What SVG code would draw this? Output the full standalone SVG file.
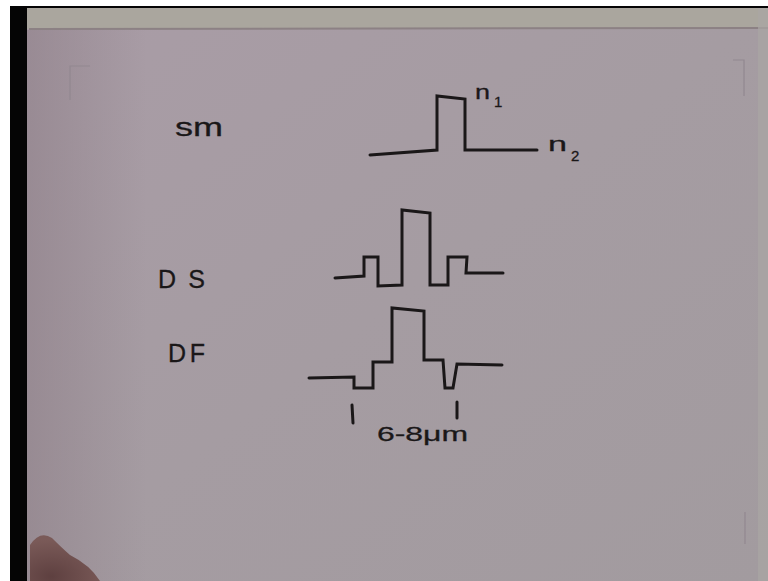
<svg xmlns="http://www.w3.org/2000/svg" width="768" height="581" viewBox="0 0 768 581">
<defs>
<linearGradient id="paper" x1="0" y1="0" x2="1" y2="1">
<stop offset="0" stop-color="#a99ca6"/>
<stop offset="0.5" stop-color="#a59ca2"/>
<stop offset="1" stop-color="#a29b9f"/>
</linearGradient>
<linearGradient id="shade" x1="0" y1="0" x2="1" y2="0">
<stop offset="0" stop-color="#8e7f88" stop-opacity="0.6"/>
<stop offset="1" stop-color="#8e7f88" stop-opacity="0"/>
</linearGradient>
<radialGradient id="hand" cx="0.3" cy="0.9" r="0.8">
<stop offset="0" stop-color="#5e4040"/>
<stop offset="1" stop-color="#7a5a58"/>
</radialGradient>
</defs>
<style>
.ink{fill:none;stroke:#1a1718;stroke-width:3;stroke-linejoin:miter;stroke-linecap:round}
.t{font-family:"Liberation Sans","DejaVu Sans",sans-serif;fill:#1a1718;stroke:#1a1718;stroke-width:0.3}
.mark{fill:none;stroke:#928890;stroke-width:1.2}
</style>
<!-- background / frame -->
<rect x="0" y="0" width="768" height="581" fill="#ffffff"/>
<rect x="10" y="6" width="758" height="575" fill="#050505"/>
<rect x="27" y="8" width="741" height="573" fill="url(#paper)"/>
<rect x="27" y="8" width="741" height="21" fill="#aaa69e"/>
<line x1="29" y1="29" x2="768" y2="28" stroke="#8c8184" stroke-width="2"/>
<rect x="27" y="30" width="120" height="551" fill="url(#shade)"/>
<rect x="758" y="8" width="10" height="573" fill="#aaa6a4" opacity="0.7"/>
<g id="corner-marks">
<path class="mark" d="M70 100 V66 H90"/>
<path class="mark" d="M733 60 H744 V96"/>
<path class="mark" d="M745 512 V544"/>
</g>
<path d="M30 545 Q40 530 52 538 Q62 548 70 555 Q90 565 100 581 L30 581 Z" fill="url(#hand)"/>

<g id="sm">
<text class="t" x="175" y="136" font-size="25" textLength="48" lengthAdjust="spacingAndGlyphs">sm</text>
<polyline class="ink" points="370,155 437,150 437,96 465,99 465,150 537,150"/>
<text class="t" x="475" y="99" font-size="20" textLength="15" lengthAdjust="spacingAndGlyphs">n</text>
<text class="t" x="494" y="107" font-size="15">1</text>
<text class="t" x="548" y="151" font-size="21" textLength="19" lengthAdjust="spacingAndGlyphs">n</text>
<text class="t" x="571" y="161" font-size="15">2</text>
</g>

<g id="ds">
<text class="t" x="158" y="288" font-size="25" textLength="47" lengthAdjust="spacing">DS</text>
<polyline class="ink" points="335,278 364,276 364,257 378,257 378,286 402,285 402,210 430,213 430,285 448,285 448,257 467,257 466,273 503,273"/>
</g>

<g id="df">
<text class="t" x="168" y="362" font-size="25" textLength="37" lengthAdjust="spacing">DF</text>
<polyline class="ink" points="309,378 354,377 354,388 373,388 373,362 392,362 392,308 424,311 424,360 443,360 445,388 453,388 457,364 502,365"/>
<line class="ink" x1="352" y1="405" x2="353" y2="423"/>
<line class="ink" x1="457" y1="402" x2="457" y2="418"/>
<text class="t" x="377" y="441" font-size="21" textLength="91" lengthAdjust="spacingAndGlyphs">6-8μm</text>
</g>
</svg>
